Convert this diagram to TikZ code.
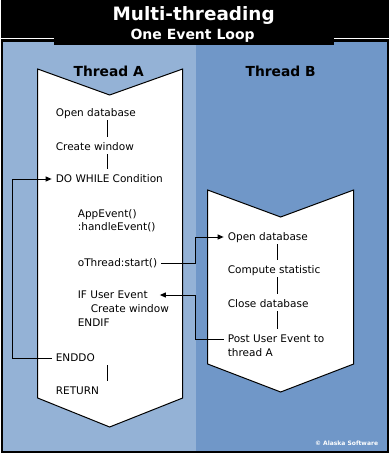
\documentclass[tikz,border=0pt]{standalone}
\usepackage{fontspec}
\setmainfont{DejaVu Sans}
\usetikzlibrary{arrows.meta}
\definecolor{paneA}{RGB}{148,178,214}
\definecolor{paneB}{RGB}{112,151,200}

\begin{document}
\begin{tikzpicture}[x=1pt,y=-1pt,
  stmt/.style={anchor=base west,inner xsep=4pt,inner ysep=1pt,
    text height=9pt,text depth=3pt,font=\fontsize{10.5}{12}\selectfont},
  head/.style={anchor=base,font=\bfseries\fontsize{13.8}{16}\selectfont},
  thread/.style={draw,fill=white,line width=1pt},
  seq/.style={line width=1pt,shorten >=3pt},
  flow/.style={-{Triangle[length=6pt,width=5pt]},line width=1pt}]
% background and title bar
\fill[black] (0,0) rectangle (388,453);
\fill[paneA] (2,42) rectangle (195,451);
\fill[paneB] (195,42) rectangle (386,451);
\draw[white,line width=1.3pt] (0,38.5) -- (388,38.5);
\fill[black] (53,0) rectangle (333,45);
\node[anchor=base,white,font=\bfseries\fontsize{18.4}{20}\selectfont] (title) at (193,20) {Multi-threading};
\node[anchor=base,white,font=\bfseries\fontsize{14}{16}\selectfont] (subtitle) at (192,39) {One Event Loop};
\node[anchor=base east,white,font=\bfseries\fontsize{6}{7}\selectfont] (copy) at (381,445.5) {© Alaska Software};

% the two threads
\draw[thread] (37,69) -- (109,95) -- (182,69) -- (182,398) -- (109,427) -- (37,398) -- cycle;
\draw[thread] (207,190) -- (280,217) -- (353,190) -- (353,364) -- (280,392) -- (207,364) -- cycle;
\node[head] (heada) at (108,76) {Thread A};
\node[head] (headb) at (280,76) {Thread B};

\coordinate (acol) at (107,0);
\coordinate (bcol) at (277,0);
\coordinate (loopx) at (12,0);
\coordinate (midx) at (195,0);

% thread A
\node[stmt] (opena) at (51,116) {Open database};
\node[stmt] (winda) at (51,150) {Create window};
\node[stmt] (dowhile) at (51,182) {DO WHILE Condition};
\node[stmt] (appev) at (73,217) {AppEvent()};
\node[stmt] (handle) at (73,230) {:handleEvent()};
\node[stmt] (start) at (73,266) {oThread:start()};
\node[stmt] (ifev) at (73,298) {IF User Event};
\node[stmt] (windif) at (86,312) {Create window};
\node[stmt] (endif) at (73,326) {ENDIF};
\node[stmt] (enddo) at (51,361) {ENDDO};
\node[stmt] (ret) at (51,394) {RETURN};

% thread B
\node[stmt] (openb) at (223,240) {Open database};
\node[stmt] (stat) at (223,273) {Compute statistic};
\node[stmt] (closeb) at (223,307) {Close database};
\node[stmt] (post) at (223,342) {Post User Event to};
\node[stmt] (posta) at (223,356) {thread A};

\draw[seq] (opena.south -| acol) -- (winda.north -| acol);
\draw[seq] (winda.south -| acol) -- (dowhile.north -| acol);
\draw[seq] (enddo.south -| acol) -- (ret.north -| acol);
\draw[seq] (openb.south -| bcol) -- (stat.north -| bcol);
\draw[seq] (stat.south -| bcol) -- (closeb.north -| bcol);
\draw[seq] (closeb.south -| bcol) -- (post.north -| bcol);

\draw[flow] (enddo.west) -- (enddo.west -| loopx) |- (dowhile.west);
\draw[flow] (start.east) -- (start.east -| midx) |- (openb.west);
\draw[flow] (post.west) -- (post.west -| midx) |- ([xshift=8pt]ifev.east);
\end{tikzpicture}
\end{document}
